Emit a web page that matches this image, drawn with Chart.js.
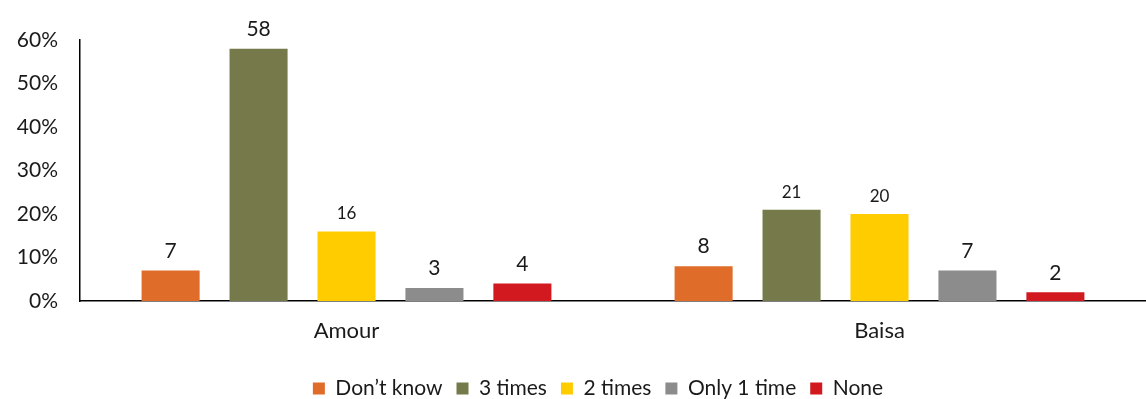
<!DOCTYPE html>
<html>
<head>
<meta charset="utf-8">
<script src="https://cdn.jsdelivr.net/npm/chart.js@4"></script>
<style>
  html, body { margin: 0; padding: 0; background: #fff; }
  #wrap { width: 1146px; height: 399px; }
</style>
</head>
<body>
<div id="wrap"><canvas id="chart"></canvas></div>
<script>
const categories = ["Amour", "Baisa"];
const seriesNames = ["Don’t know", "3 times", "2 times", "Only 1 time", "None"];
const dontKnow = [7, 8];
const threeTimes = [58, 21];
const twoTimes = [16, 20];
const onlyOnce = [3, 7];
const none = [4, 2];
const yTicks = [0, 10, 20, 30, 40, 50, 60];

const colors = ["#E06C2A", "#76794A", "#FFCC00", "#8C8C8C", "#D1191F"];
const values = [dontKnow, threeTimes, twoTimes, onlyOnce, none];

const FONT = "Lato, 'Open Sans', sans-serif";

// small plugin: value above each bar
const barLabels = {
    id: "barLabels",
    afterDatasetsDraw(chart) {
        const ctx = chart.ctx;
        ctx.save();
        ctx.fillStyle = "#1a1a1a";
        ctx.textAlign = "center";
        ctx.textBaseline = "bottom";
        chart.data.datasets.forEach((ds, i) => {
            chart.getDatasetMeta(i).data.forEach((bar, j) => {
                const v = ds.data[j];
                ctx.font = (v >= 10 && v < 50 ? "17px " : "21px ") + FONT;
                ctx.fillText(String(v), bar.x, bar.y - 9);
            });
        });
        ctx.restore();
    }
};

// nudge the legend a bit lower and right, like the original
const legendNudge = {
    id: "legendNudge",
    afterLayout(chart) {
        const lg = chart.legend;
        lg.top += 10; lg.bottom += 10;
        lg.left += 25; lg.right += 25;
    }
};

new Chart(document.getElementById("chart"), {
    type: "bar",
    data: {
        labels: categories,
        datasets: seriesNames.map((name, i) => ({
            label: name,
            data: values[i],
            backgroundColor: colors[i],
            categoryPercentage: 0.825,
            barPercentage: 0.66
        }))
    },
    options: {
        responsive: true,
        maintainAspectRatio: false,
        animation: false,
        layout: { padding: { top: 40, right: 0, left: 0, bottom: 0 } },
        plugins: {
            tooltip: { enabled: false },
            legend: {
                position: "bottom",
                labels: {
                    font: { family: FONT, size: 21 },
                    color: "#1a1a1a",
                    boxWidth: 12,
                    boxHeight: 12,
                    padding: 14
                }
            }
        },
        scales: {
            x: {
                grid: { display: false, drawTicks: false },
                border: { color: "#000", width: 1.5 },
                ticks: {
                    font: { family: FONT, size: 22 },
                    color: "#1a1a1a",
                    padding: 17
                },
                afterFit(scale) { scale.height = 53; }
            },
            y: {
                min: 0,
                max: 60,
                afterBuildTicks(scale) { scale.ticks = yTicks.map(v => ({ value: v })); },
                grid: { display: false, drawTicks: false },
                border: { color: "#000", width: 1.5 },
                ticks: {
                    font: { family: FONT, size: 21 },
                    color: "#1a1a1a",
                    padding: 22,
                    callback: v => v + "%"
                },
                afterFit(scale) { scale.width = 80; }
            }
        }
    },
    plugins: [barLabels, legendNudge]
});
</script>
</body>
</html>
